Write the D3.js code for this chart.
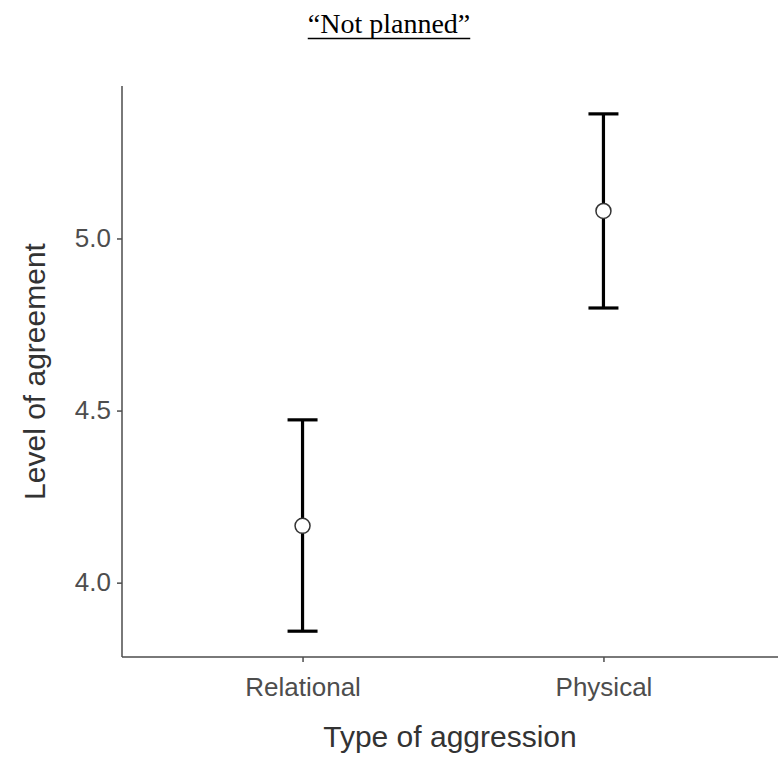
<!DOCTYPE html>
<html>
<head>
  <meta charset="UTF-8">
  <style>
    body {
        margin: 0;
        background: #fff;
        font-family: "Liberation Sans", Arial, sans-serif;
    }
    .tick text {
        fill: #4d4d4d;
        font-size: 26px;
    }
    .axis-title {
        fill: #333;
        font-size: 30px;
    }
    .title {
        font-family: "Liberation Serif", "Times New Roman", serif;
        font-size: 28px;
        fill: #000;
    }
  </style>
</head>
<body>
<svg></svg>

<script src="https://d3js.org/d3.v7.min.js"></script>
<script>

// data
const categories = ["Relational", "Physical"];
const means = [4.165, 5.080];
const lower = [3.859, 4.798];
const upper = [4.473, 5.362];
const yTicks = [4.0, 4.5, 5.0];

let width = 778, height = 759;
let margin = {top: 86, right: -6, bottom: 102, left: 122};

let svg = d3.select("svg")
  .attr("width", width)
  .attr("height", height);

let y = d3.scaleLinear()
  .domain([3.784, 5.443])
  .range([height - margin.bottom, margin.top]);

let x = d3.scalePoint()
  .domain(categories)
  .range([margin.left, width - margin.right])
  .padding(0.6);

// title, underlined
let title = svg.append("text")
  .attr("class", "title")
  .attr("x", 389)
  .attr("y", 33)
  .attr("text-anchor", "middle")
  .text("\u201CNot planned\u201D");

let tb = title.node().getBBox();
svg.append("line")
  .attr("x1", tb.x)
  .attr("x2", tb.x + tb.width)
  .attr("y1", 38.5)
  .attr("y2", 38.5)
  .attr("stroke", "#000")
  .attr("stroke-width", 1.6);

// axes
let yAxis = svg.append("g")
  .attr("transform", "translate(" + margin.left + ",0)")
  .call(d3.axisLeft(y).tickValues(yTicks).tickFormat(d3.format(".1f")).tickSize(5).tickPadding(6));

let xAxis = svg.append("g")
  .attr("transform", "translate(0," + (height - margin.bottom) + ")")
  .call(d3.axisBottom(x).tickSize(5).tickPadding(16));

[yAxis, xAxis].forEach(a => {
  a.select(".domain").attr("stroke", "#4d4d4d").attr("stroke-width", 1.5);
  a.selectAll(".tick line").attr("stroke", "#4d4d4d").attr("stroke-width", 1.5);
  a.selectAll("text").attr("font-family", "Liberation Sans, Arial, sans-serif");
});
// plain axis lines, no outer ticks
yAxis.select(".domain").attr("d", "M0," + margin.top + "V" + (height - margin.bottom));
xAxis.select(".domain").attr("d", "M" + margin.left + ",0H" + width);

// axis titles
svg.append("text")
  .attr("class", "axis-title")
  .attr("transform", "translate(45," + ((margin.top + height - margin.bottom) / 2) + ") rotate(-90)")
  .attr("text-anchor", "middle")
  .text("Level of agreement");

svg.append("text")
  .attr("class", "axis-title")
  .attr("x", (margin.left + width) / 2)
  .attr("y", 747)
  .attr("text-anchor", "middle")
  .text("Type of aggression");

// error bars
let bars = svg.append("g")
  .selectAll("g")
  .data(categories)
  .join("g");

bars.append("line")
  .attr("x1", d => x(d))
  .attr("x2", d => x(d))
  .attr("y1", (d, i) => y(lower[i]))
  .attr("y2", (d, i) => y(upper[i]))
  .attr("stroke", "#000")
  .attr("stroke-width", 3.2);

bars.selectAll("line.cap")
  .data((d, i) => [lower[i], upper[i]].map(v => ({c: d, v: v})))
  .join("line")
  .attr("class", "cap")
  .attr("x1", d => x(d.c) - 15)
  .attr("x2", d => x(d.c) + 15)
  .attr("y1", d => y(d.v))
  .attr("y2", d => y(d.v))
  .attr("stroke", "#000")
  .attr("stroke-width", 3.2);

bars.append("circle")
  .attr("cx", d => x(d))
  .attr("cy", (d, i) => y(means[i]))
  .attr("r", 7.5)
  .attr("fill", "#fff")
  .attr("stroke", "#333")
  .attr("stroke-width", 1.5);

</script>
</body>
</html>
